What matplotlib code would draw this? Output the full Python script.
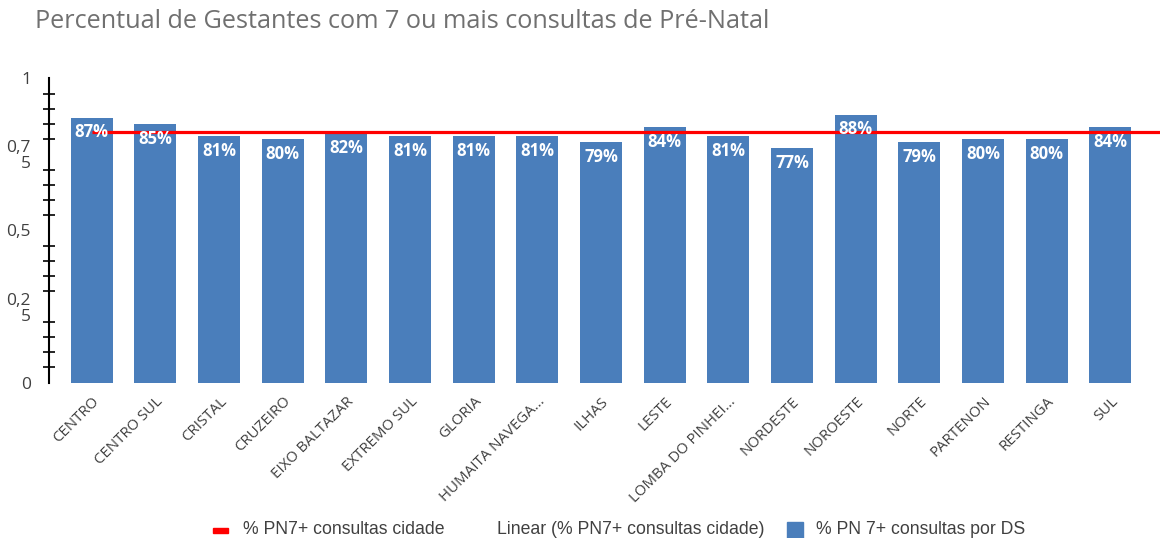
import matplotlib
matplotlib.use("Agg")
import matplotlib.pyplot as plt
import numpy as np
from matplotlib.patches import Rectangle
from matplotlib.ticker import FixedLocator

categories = ["CENTRO", "CENTRO SUL", "CRISTAL", "CRUZEIRO", "EIXO BALTAZAR",
              "EXTREMO SUL", "GLORIA", "HUMAITA NAVEGA...", "ILHAS", "LESTE",
              "LOMBA DO PINHEI...", "NORDESTE", "NOROESTE", "NORTE", "PARTENON",
              "RESTINGA", "SUL"]
values = [0.87, 0.85, 0.81, 0.80, 0.82, 0.81, 0.81, 0.81, 0.79, 0.84,
          0.81, 0.77, 0.88, 0.79, 0.80, 0.80, 0.84]
city_value = 0.824
ytick_values = [0, 0.25, 0.5, 0.75, 1]
ytick_labels = ["0", "0,2\n5", "0,5", "0,7\n5", "1"]

bar_color = "#4A7EBB"
fig = plt.figure(figsize=(11.6, 5.38), dpi=100)
ax = fig.add_axes([49/1160, 155.3/538, 1 - 49/1160, (459.7-155.3)/538])

x = np.arange(len(categories))
ax.bar(x, values, width=0.66, color=bar_color, zorder=2)
ax.plot([0, 17], [city_value, city_value], color="#FF0000", lw=2.3, zorder=3,
        solid_capstyle="butt")

for xi, v in zip(x, values):
    ax.annotate(f"{round(v*100):d}%", (xi, v), xytext=(0, -10.5), textcoords="offset points",
                ha="center", va="center", color="white", fontsize=12,
                fontweight="bold", family="Open Sans", zorder=4)

ax.set_xlim(-0.67, 16.78)
ax.set_ylim(0, 1)
ax.set_xticks(x)
ax.set_xticklabels(categories, rotation=45, ha="right", rotation_mode="anchor",
                   fontsize=10.8, family="Open Sans", color="#404040")
ax.tick_params(axis="x", length=0, pad=8)

ax.set_yticks(ytick_values)
ax.set_yticklabels(ytick_labels, fontsize=12.5, family="Open Sans", color="#404040",
                   linespacing=1.0)
ax.tick_params(axis="y", which="major", length=0, pad=13)
minor = [round(i*0.05, 2) for i in range(1, 20) if i % 5 != 0]
ax.yaxis.set_minor_locator(FixedLocator(minor))
ax.tick_params(axis="y", which="minor", direction="inout", length=9, width=1.2, color="black")

for s in ["top", "right", "bottom"]:
    ax.spines[s].set_visible(False)
ax.spines["left"].set_linewidth(1.5)
ax.spines["left"].set_color("black")

fig.text(35/1160, 1 - 22/538, "Percentual de Gestantes com 7 ou mais consultas de Pré-Natal",
         fontsize=18.2, family="Open Sans", color="#707070", va="center", ha="left")

# legend
ly = 1 - 530/538
fig.add_artist(Rectangle((213/1160, 1 - 533/538), 15/1160, 5/538, transform=fig.transFigure,
                         color="#FF0000"))
fig.text(243/1160, ly, "% PN7+ consultas cidade", fontsize=12.7, family="Liberation Sans",
         color="#404040", va="center", ha="left")
fig.text(497/1160, ly, "Linear (% PN7+ consultas cidade)", fontsize=12.7, family="Liberation Sans",
         color="#404040", va="center", ha="left")
fig.add_artist(Rectangle((787/1160, 1 - 538/538), 16/1160, 16/538, transform=fig.transFigure,
                         color=bar_color))
fig.text(816/1160, ly, "% PN 7+ consultas por DS", fontsize=12.7, family="Liberation Sans",
         color="#404040", va="center", ha="left")

fig.savefig("out.png", dpi=100)
